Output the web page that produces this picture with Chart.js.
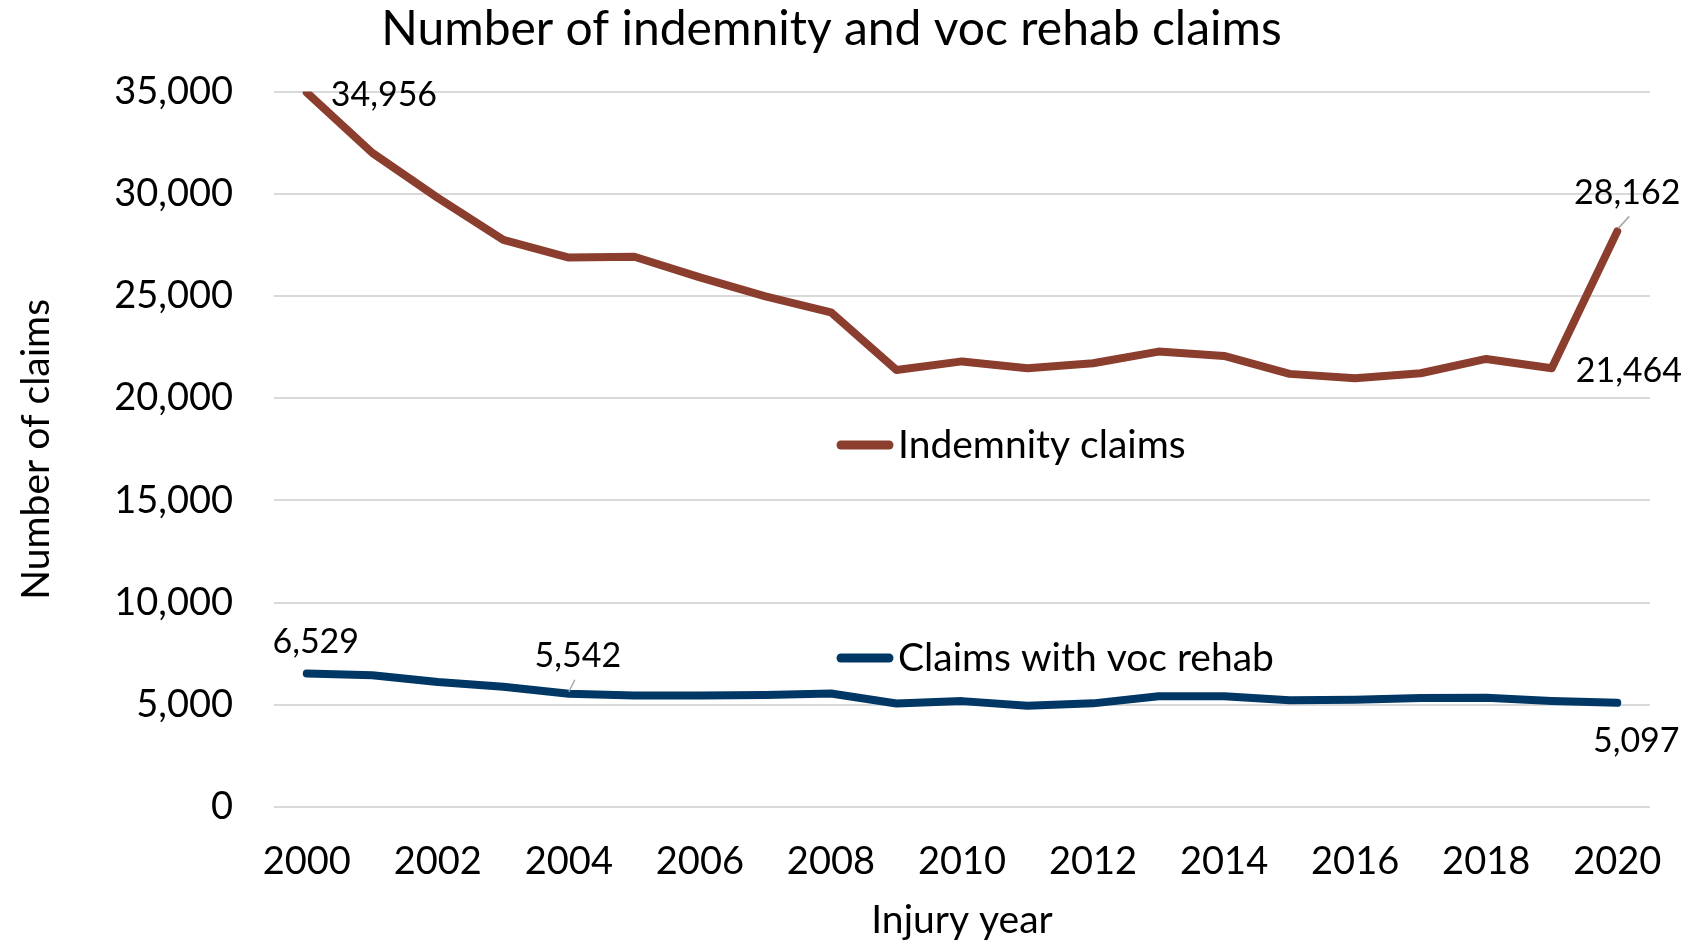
<!DOCTYPE html>
<html>
<head>
<meta charset="utf-8">
<script src="https://cdn.jsdelivr.net/npm/chart.js@4.4.1/dist/chart.umd.min.js"></script>
<style>
  html, body { margin: 0; padding: 0; background: #fff; }
  canvas { display: block; }
</style>
</head>
<body>
<canvas id="chart" width="1683" height="941"></canvas>
<script>
const years = ["2000", "2001", "2002", "2003", "2004", "2005", "2006", "2007", "2008", "2009", "2010",
  "2011", "2012", "2013", "2014", "2015", "2016", "2017", "2018", "2019", "2020"];
const indemnityClaims = [34956, 32000, 29800, 27750, 26880, 26920, 25910, 24980, 24200, 21380, 21800,
  21470, 21710, 22280, 22070, 21190, 20980, 21220, 21920, 21464, 28162];
const vocRehabClaims = [6529, 6450, 6120, 5880, 5542, 5460, 5450, 5480, 5550, 5060, 5180,
  4950, 5070, 5420, 5420, 5220, 5250, 5330, 5350, 5190, 5097];
const yTicks = [0, 5000, 10000, 15000, 20000, 25000, 30000, 35000];

const FONT = "Lato, 'Open Sans', sans-serif";
const fmt = v => Number(v).toLocaleString('en-US');

// value labels Excel put on a few points: [dataset, index, dx, dy, align, leader]
const pointLabels = [
  [0, 0, 24, 3, 'left', null],
  [0, 19, 24, 3, 'left', null],
  [0, 20, 10, -38, 'center', [1, -3, 12, -15]],
  [1, 0, 9, -32, 'center', null],
  [1, 4, 9, -38, 'center', [0, -2, 6, -14]],
  [1, 20, 19, 38, 'center', null]
];

// legend entries sit inside the plot, one above each line
const legendSpots = [[837, 445], [837, 658]];

const labelsPlugin = {
  id: 'pointLabels',
  afterDatasetsDraw(chart) {
    const ctx = chart.ctx;
    ctx.save();
    ctx.font = "34px " + FONT;
    ctx.fillStyle = '#000';
    ctx.textBaseline = 'middle';
    pointLabels.forEach(([ds, i, dx, dy, align, leader]) => {
      const pt = chart.getDatasetMeta(ds).data[i];
      if (leader) {
        ctx.strokeStyle = '#a6a6a6';
        ctx.lineWidth = 1.5;
        ctx.beginPath();
        ctx.moveTo(pt.x + leader[0], pt.y + leader[1]);
        ctx.lineTo(pt.x + leader[2], pt.y + leader[3]);
        ctx.stroke();
      }
      ctx.textAlign = align;
      ctx.fillText(fmt(chart.data.datasets[ds].data[i]), pt.x + dx, pt.y + dy);
    });

    // legend
    ctx.font = "39px " + FONT;
    ctx.textAlign = 'left';
    chart.data.datasets.forEach((d, k) => {
      const [lx, ly] = legendSpots[k];
      ctx.strokeStyle = d.borderColor;
      ctx.lineWidth = 9;
      ctx.lineCap = 'round';
      ctx.beginPath();
      ctx.moveTo(lx + 4, ly);
      ctx.lineTo(lx + 52, ly);
      ctx.stroke();
      ctx.fillText(d.label, lx + 61, ly);
    });
    ctx.restore();
  }
};

const ctx = document.getElementById('chart').getContext('2d');
new Chart(ctx, {
  type: 'line',
  data: {
    labels: years,
    datasets: [
      {
        label: 'Indemnity claims',
        data: indemnityClaims,
        borderColor: '#8c3e2e',
        backgroundColor: '#8c3e2e',
        borderWidth: 8,
        pointRadius: 0,
        tension: 0,
        borderJoinStyle: 'round',
        borderCapStyle: 'round'
      },
      {
        label: 'Claims with voc rehab',
        data: vocRehabClaims,
        borderColor: '#003764',
        backgroundColor: '#003764',
        borderWidth: 8,
        pointRadius: 0,
        tension: 0,
        borderJoinStyle: 'round',
        borderCapStyle: 'round'
      }
    ]
  },
  options: {
    responsive: false,
    animation: false,
    devicePixelRatio: 1,
    layout: { padding: { left: 0, right: 20, top: 0, bottom: 0 } },
    plugins: {
      legend: { display: false },
      tooltip: { enabled: false },
      title: {
        display: true,
        text: 'Number of indemnity and voc rehab claims',
        color: '#000',
        font: { family: FONT, size: 48, weight: 'normal', lineHeight: 1.2 },
        padding: { top: 1, bottom: 33 }
      }
    },
    scales: {
      x: {
        offset: true,
        grid: { display: false, drawTicks: false },
        border: { display: false },
        ticks: {
          autoSkip: false,
          maxRotation: 0,
          padding: 32,
          color: '#000',
          font: { family: FONT, size: 38, lineHeight: 1.2 },
          callback: (v, i) => (i % 2 === 0 ? years[i] : '')
        },
        title: {
          display: true,
          text: 'Injury year',
          color: '#000',
          font: { family: FONT, size: 39, lineHeight: 1.05 },
          padding: { top: 0, bottom: 0 }
        },
        afterFit: s => {
          s.height = 134;
          s.paddingLeft = 0;
          s.paddingRight = 33; // plot ends 33px from the right edge
        }
      },
      y: {
        min: 0,
        max: 35000,
        afterBuildTicks: s => { s.ticks = yTicks.map(v => ({ value: v })); },
        grid: { color: '#d9d9d9', lineWidth: 2, drawTicks: false },
        border: { display: false },
        ticks: {
          padding: 41,
          color: '#000',
          font: { family: FONT, size: 38, lineHeight: 1.2 },
          callback: v => fmt(v)
        },
        title: {
          display: true,
          text: 'Number of claims',
          color: '#000',
          font: { family: FONT, size: 39, lineHeight: 1.2 },
          padding: { top: 13, bottom: 0 }
        },
        afterFit: s => { s.width = 274; }
      }
    }
  },
  plugins: [labelsPlugin]
});
</script>
</body>
</html>
